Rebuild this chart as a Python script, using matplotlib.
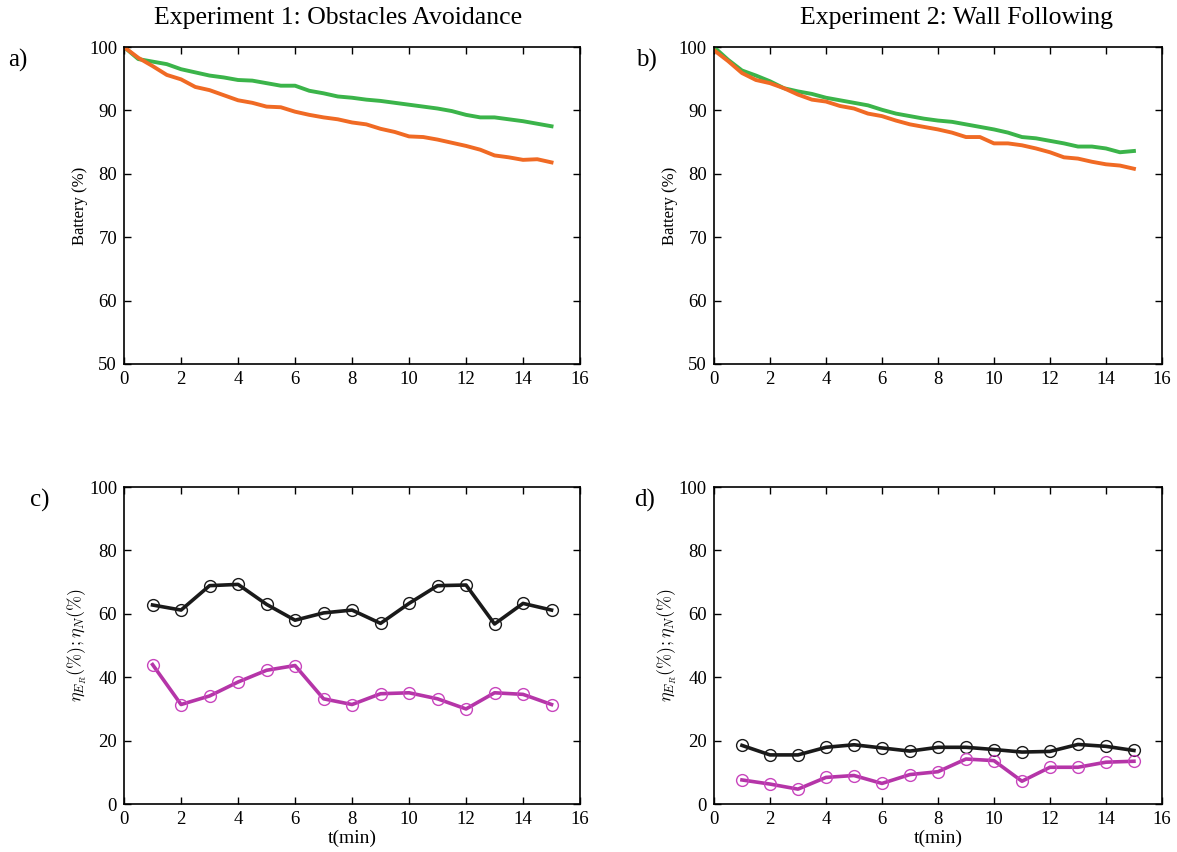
import numpy as np
import matplotlib
matplotlib.use('Agg')
import matplotlib.pyplot as plt

plt.rcParams['font.family'] = ['Liberation Serif', 'DejaVu Serif']
plt.rcParams['mathtext.fontset'] = 'cm'

t_bat = np.arange(0, 15.01, 0.5)
bat1_green = [100, 98.1, 97.7, 97.3, 96.5, 96.0, 95.5, 95.2, 94.8, 94.7, 94.3, 93.9,
              93.9, 93.1, 92.7, 92.2, 92.0, 91.7, 91.5, 91.2, 90.9, 90.6, 90.3, 89.9,
              89.3, 88.9, 88.9, 88.6, 88.3, 87.9, 87.5]
bat1_orange = [100, 98.3, 97.0, 95.6, 94.9, 93.7, 93.2, 92.4, 91.6, 91.2, 90.6, 90.5,
               89.8, 89.3, 88.9, 88.6, 88.1, 87.8, 87.1, 86.6, 85.9, 85.8, 85.4, 84.9,
               84.4, 83.8, 82.9, 82.6, 82.2, 82.3, 81.8]
bat2_green = [100, 98.0, 96.3, 95.5, 94.6, 93.5, 93.0, 92.6, 92.0, 91.6, 91.2, 90.8,
              90.1, 89.5, 89.1, 88.7, 88.4, 88.2, 87.8, 87.4, 87.0, 86.5, 85.8, 85.6,
              85.2, 84.8, 84.3, 84.3, 84.0, 83.4, 83.6]
bat2_orange = [99.5, 97.8, 95.9, 94.8, 94.3, 93.5, 92.5, 91.7, 91.4, 90.7, 90.3, 89.5,
               89.1, 88.4, 87.8, 87.4, 87.0, 86.5, 85.8, 85.8, 84.8, 84.8, 84.5, 84.0,
               83.4, 82.6, 82.4, 81.9, 81.5, 81.3, 80.8]

# efficiencies per minute
t_eff = np.arange(1, 16)
eta1_black = [62.8, 61.2, 68.9, 69.3, 63.0, 58.0, 60.3, 61.2, 57.0, 63.3, 68.9, 69.1, 56.8, 63.3, 61.2]
eta1_mag = [44.0, 31.4, 34.1, 38.5, 42.2, 43.7, 33.2, 31.4, 34.8, 35.1, 33.2, 30.0, 35.1, 34.6, 31.4]
eta2_black = [18.5, 15.5, 15.5, 17.9, 18.7, 17.7, 16.7, 17.9, 17.9, 17.2, 16.4, 16.6, 18.8, 18.2, 16.9]
eta2_mag = [7.6, 6.3, 4.7, 8.4, 9.0, 6.5, 9.3, 10.2, 14.2, 13.7, 7.2, 11.6, 11.6, 13.2, 13.5]

green = '#3bb44a'
orange = '#f06a24'
black = '#1a1a1a'
magenta = '#b535a8'

fig = plt.figure(figsize=(11.77, 8.52), dpi=100)
pos = {'a': [0.1054, 0.5728, 0.3874, 0.372], 'b': [0.6066, 0.5728, 0.3806, 0.372],
       'c': [0.1054, 0.0563, 0.3874, 0.372], 'd': [0.6066, 0.0563, 0.3806, 0.372]}
axes = {k: fig.add_axes(v) for k, v in pos.items()}

for ax in axes.values():
    ax.set_xlim(0, 16)
    ax.set_xticks(range(0, 17, 2))
    ax.tick_params(direction='in', top=True, right=True, labelsize=13.5, length=5, width=1, pad=5)
    for s in ax.spines.values():
        s.set_linewidth(1.2)

for k, g, o in [('a', bat1_green, bat1_orange), ('b', bat2_green, bat2_orange)]:
    ax = axes[k]
    ax.plot(t_bat, g, color=green, lw=2.8)
    ax.plot(t_bat, o, color=orange, lw=2.8)
    ax.set_ylim(50, 100)
    ax.set_yticks(range(50, 101, 10))
    ax.set_ylabel('Battery (%)', fontsize=12, labelpad=1)

for k, bl, mg in [('c', eta1_black, eta1_mag), ('d', eta2_black, eta2_mag)]:
    ax = axes[k]
    ax.plot(t_eff, bl, color=black, lw=2.6, marker='o', ms=8.5, mfc='none', mec=black, mew=1)
    ax.plot(t_eff, mg, color=magenta, lw=2.6, marker='o', ms=8.5, mfc='none', mec='#c845bd', mew=1)
    ax.set_ylim(0, 100)
    ax.set_yticks(range(0, 101, 20))
    ax.set_ylabel(r'$\eta_{E_R}(\%);\eta_N(\%)$', fontsize=13, labelpad=0)
    ax.set_xlabel('t(min)', fontsize=14, labelpad=1)

fig.text(338/1177, 1 - 18/852, 'Experiment 1: Obstacles Avoidance', fontsize=18.5, ha='center', va='center')
fig.text(957/1177, 1 - 18/852, 'Experiment 2: Wall Following', fontsize=18.5, ha='center', va='center')

fig.text(8/1177, 1 - 60/852, 'a)', fontsize=18, va='center')
fig.text(636/1177, 1 - 60/852, 'b)', fontsize=18, va='center')
fig.text(30/1177, 1 - 500/852, 'c)', fontsize=18, va='center')
fig.text(634/1177, 1 - 500/852, 'd)', fontsize=18, va='center')

fig.savefig('out.png', dpi=100)
